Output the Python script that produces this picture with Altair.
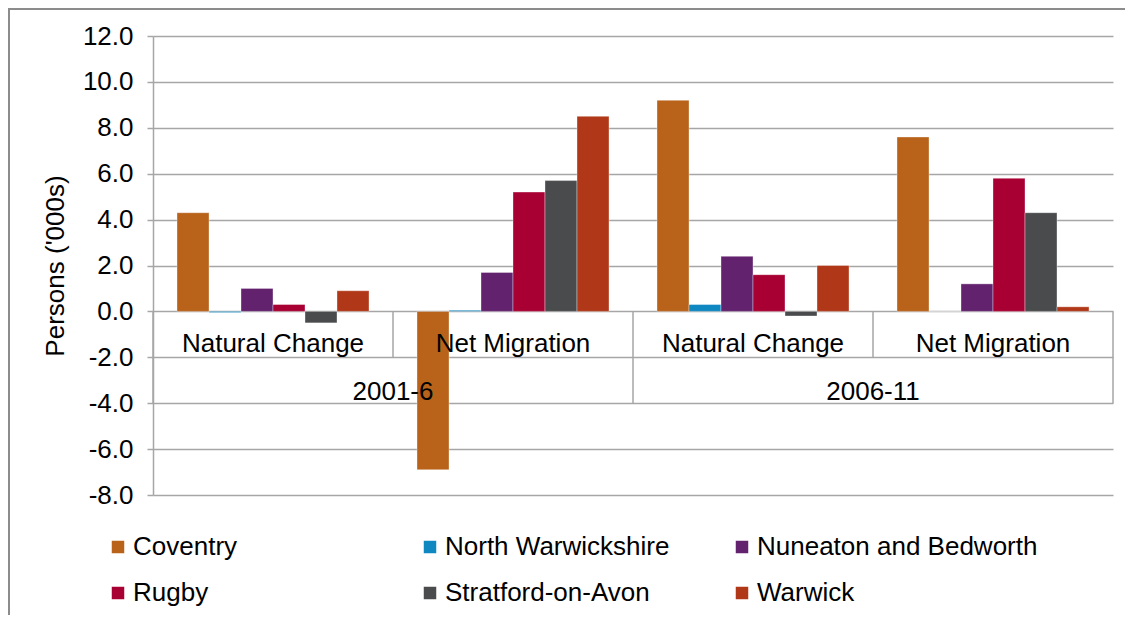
import altair as alt
import pandas as pd

# Category axis (two levels)
periods = ["2001-6", "2001-6", "2006-11", "2006-11"]
components = ["Natural Change", "Net Migration", "Natural Change", "Net Migration"]

areas = ["Coventry", "North Warwickshire", "Nuneaton and Bedworth",
         "Rugby", "Stratford-on-Avon", "Warwick"]
colors = ["#B8621A", "#0F87C0", "#63226E", "#A80033", "#4A4B4D", "#B03818"]

# Persons ('000s), one list per area, in category order
coventry = [4.3, -6.9, 9.2, 7.6]
north_warwickshire = [-0.05, 0.05, 0.3, 0.0]
nuneaton_bedworth = [1.0, 1.7, 2.4, 1.2]
rugby = [0.3, 5.2, 1.6, 5.8]
stratford = [-0.5, 5.7, -0.2, 4.3]
warwick = [0.9, 8.5, 2.0, 0.2]

y_ticks = [-8, -6, -4, -2, 0, 2, 4, 6, 8, 10, 12]

series = [coventry, north_warwickshire, nuneaton_bedworth, rugby, stratford, warwick]
keys = [f"{p}|{c}" for p, c in zip(periods, components)]

rows = []
for area, vals in zip(areas, series):
    for k, v in zip(keys, vals):
        rows.append({"key": k, "area": area, "value": v})
df = pd.DataFrame(rows)

cat_df = pd.DataFrame({"key": keys, "component": components, "period": periods})
first_of_period = cat_df.drop_duplicates("period", keep="first")
last_df = cat_df.iloc[[-1]]

FONT = "Liberation Sans"
GRID = "#A6A6A6"
FS = 26

xscale = alt.Scale(domain=keys, paddingInner=0, paddingOuter=0)
yscale = alt.Scale(domain=[-8, 12], nice=False, zero=False)

bars = alt.Chart(df).mark_bar(stroke="white", strokeWidth=0.5, strokeOpacity=0.7).encode(
    x=alt.X("key:N", scale=xscale, axis=None, sort=keys),
    xOffset=alt.XOffset("area:N", sort=areas,
                        scale=alt.Scale(domain=areas, paddingOuter=0.75, paddingInner=0)),
    y=alt.Y("value:Q", scale=yscale,
            axis=alt.Axis(values=y_ticks, title="Persons ('000s)",
                          labelExpr="replace(format(datum.value, '.1f'), '\u2212', '-')",
                          grid=True, gridColor=GRID, gridWidth=1.5,
                          domainColor=GRID, domainWidth=1.5,
                          tickColor=GRID, tickWidth=1.5, tickSize=6,
                          labelFontSize=FS, labelColor="black", labelPadding=14,
                          titleFontSize=FS, titleFontWeight="normal", titleColor="black",
                          titlePadding=14)),
    color=alt.Color("area:N", sort=areas,
                    scale=alt.Scale(domain=areas, range=colors),
                    legend=alt.Legend(orient="none", legendX=-48, legendY=498,
                                      direction="horizontal",
                                      columns=3, title=None, symbolType="square",
                                      symbolSize=156, symbolStrokeWidth=0,
                                      labelFontSize=FS, labelColor="black",
                                      labelLimit=500, labelOffset=2,
                                      gridAlign="all", columnPadding=3,
                                      rowPadding=20)),
)

# first-level separators (between components)
sep1 = alt.Chart(cat_df).mark_rule(color=GRID, strokeWidth=1.5).encode(
    x=alt.X("key:N", bandPosition=0),
    y=alt.datum(0),
    y2=alt.datum(-2),
)
# second-level separators (between periods)
sep2 = alt.Chart(first_of_period).mark_rule(color=GRID, strokeWidth=1.5).encode(
    x=alt.X("key:N", bandPosition=0),
    y=alt.datum(-2),
    y2=alt.datum(-4),
)
sep_end = alt.Chart(last_df).mark_rule(color=GRID, strokeWidth=1.5).encode(
    x=alt.X("key:N", bandPosition=1),
    y=alt.datum(0),
    y2=alt.datum(-4),
)

lab1 = alt.Chart(cat_df).mark_text(fontSize=FS, color="black", align="center",
                                   baseline="alphabetic", dy=-5).encode(
    x=alt.X("key:N"),
    y=alt.datum(-2),
    text="component:N",
)
lab2 = alt.Chart(first_of_period).mark_text(fontSize=FS, color="black", align="center",
                                            baseline="alphabetic", dy=-3).encode(
    x=alt.X("key:N", bandPosition=1),
    y=alt.datum(-4),
    text="period:N",
)

frame = alt.Chart(pd.DataFrame({"f": [0]})).mark_rect(
    fillOpacity=0, stroke="#8C8C8C", strokeWidth=2, clip=False
).encode(
    x=alt.value(-144), x2=alt.value(1300), y=alt.value(-27), y2=alt.value(900)
)

chart = alt.layer(bars, sep1, sep2, sep_end, lab1, lab2, frame).properties(
    width=960, height=459,
    autosize=alt.AutoSizeParams(type="none"),
    padding={"left": 145, "top": 28, "right": 12, "bottom": 120},
).configure(font=FONT).configure_view(stroke=None)

chart.save("out.html", embed_options={"renderer": "svg", "actions": False})
